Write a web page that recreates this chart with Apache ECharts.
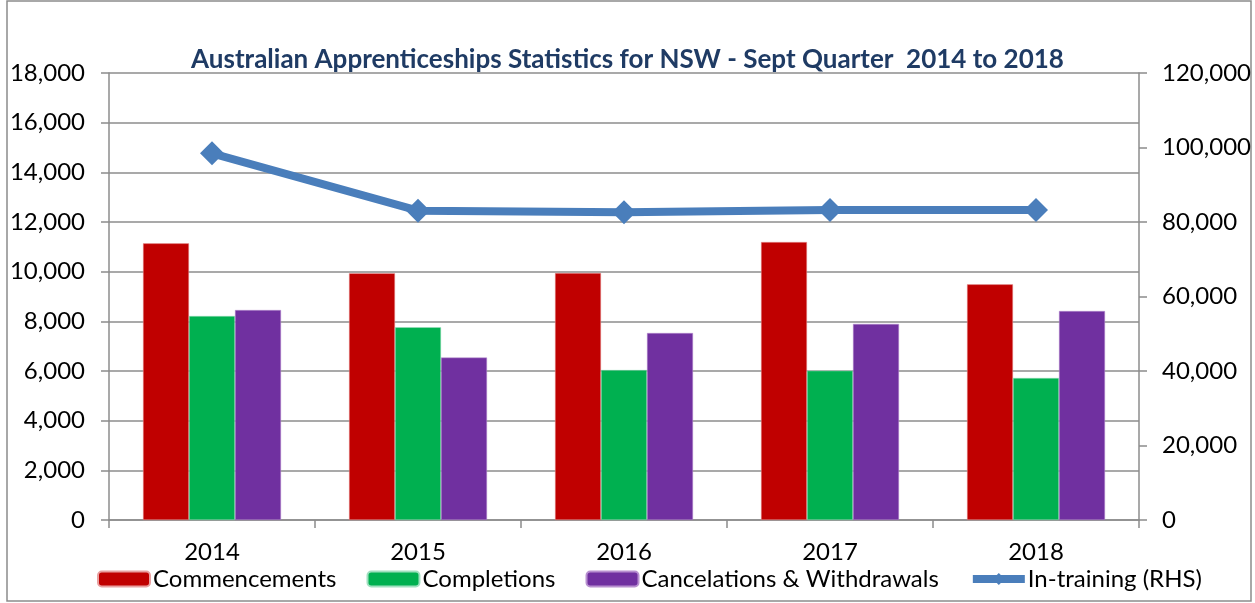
<!DOCTYPE html>
<html>
<head>
<meta charset="utf-8">
<script src="https://cdn.jsdelivr.net/npm/echarts@6/dist/echarts.min.js"></script>
<style>
  html, body { margin: 0; padding: 0; background: #fff; }
  #main { width: 1255px; height: 603px; }
</style>
</head>
<body>
<div id="main"></div>
<script>
// 数据
var years = ["2014", "2015", "2016", "2017", "2018"];
var commencements = [11140, 9935, 9945, 11195, 9490];
var completions = [8215, 7760, 6040, 6015, 5720];
var cancelations = [8455, 6540, 7530, 7895, 8415];
var inTraining = [98450, 83050, 82600, 83220, 83220];

var font = "Lato";
var myChart = echarts.init(document.getElementById("main"));

var options = {
  backgroundColor: "#fff",
  animation: false,
  textStyle: { fontFamily: font },
  title: {
    text: "Australian Apprenticeships Statistics for NSW - Sept Quarter  2014 to 2018",
    left: "center",
    top: 42,
    textStyle: { fontFamily: font, fontWeight: "bold", fontSize: 26, color: "#1F3B64" },
  },
  graphic: [
    {
      // 外边框
      type: "rect",
      shape: { x: 7, y: 1, width: 1244, height: 600 },
      style: { fill: "none", stroke: "#8c8c8c", lineWidth: 1.5 },
      silent: true,
    },
  ],
  legend: {
    top: 562,
    left: 92,
    itemWidth: 52,
    itemHeight: 15,
    itemGap: 30,
    textStyle: { fontFamily: font, fontSize: 24, color: "#000", padding: [0, 0, 0, -2] },
    data: [
      "Commencements",
      "Completions",
      "Cancelations & Withdrawals",
      { name: "In-training (RHS)", lineStyle: { width: 8 } },
    ],
  },
  grid: { left: 109, right: 116, top: 73, bottom: 83 },
  xAxis: {
    type: "category",
    data: years,
    axisLine: { lineStyle: { color: "#8c8c8c", width: 1.5 } },
    axisTick: { show: true, length: 8, lineStyle: { color: "#8c8c8c", width: 1.5 } },
    axisLabel: { fontFamily: font, fontSize: 24, color: "#000", margin: 20 },
  },
  yAxis: [
    {
      type: "value",
      min: 0,
      max: 18000,
      interval: 2000,
      axisLine: { show: true, lineStyle: { color: "#8c8c8c", width: 1.5 } },
      axisTick: { show: true, length: 8, lineStyle: { color: "#8c8c8c", width: 1.5 } },
      splitLine: { lineStyle: { color: "#8c8c8c", width: 1.5 } },
      axisLabel: {
        fontFamily: font,
        fontSize: 24,
        color: "#000",
        margin: 24,
        formatter: function (v) { return v.toLocaleString("en-US"); },
      },
    },
    {
      type: "value",
      min: 0,
      max: 120000,
      interval: 20000,
      position: "right",
      axisLine: { show: true, lineStyle: { color: "#8c8c8c", width: 1.5 } },
      axisTick: { show: true, length: 8, lineStyle: { color: "#8c8c8c", width: 1.5 } },
      splitLine: { show: false },
      axisLabel: {
        fontFamily: font,
        fontSize: 24,
        color: "#000",
        margin: 23,
        formatter: function (v) { return v.toLocaleString("en-US"); },
      },
    },
  ],
  series: [
    {
      name: "Commencements",
      type: "bar",
      data: commencements,
      barWidth: 46,
      barGap: "0%",
      itemStyle: { color: "#C00000", borderColor: "#e8a0a0", borderWidth: 0.5 },
    },
    {
      name: "Completions",
      type: "bar",
      data: completions,
      barWidth: 46,
      barGap: "0%",
      itemStyle: { color: "#00B050", borderColor: "#a0e0c0", borderWidth: 0.5 },
    },
    {
      name: "Cancelations & Withdrawals",
      type: "bar",
      data: cancelations,
      barWidth: 46,
      barGap: "0%",
      itemStyle: { color: "#7030A0", borderColor: "#b890d0", borderWidth: 0.5 },
    },
    {
      name: "In-training (RHS)",
      type: "line",
      yAxisIndex: 1,
      data: inTraining,
      symbol: "diamond",
      symbolSize: 24,
      lineStyle: { color: "#4A7EBB", width: 8 },
      itemStyle: { color: "#4A7EBB" },
      z: 5,
    },
  ],
};
myChart.setOption(options);
</script>
</body>
</html>
